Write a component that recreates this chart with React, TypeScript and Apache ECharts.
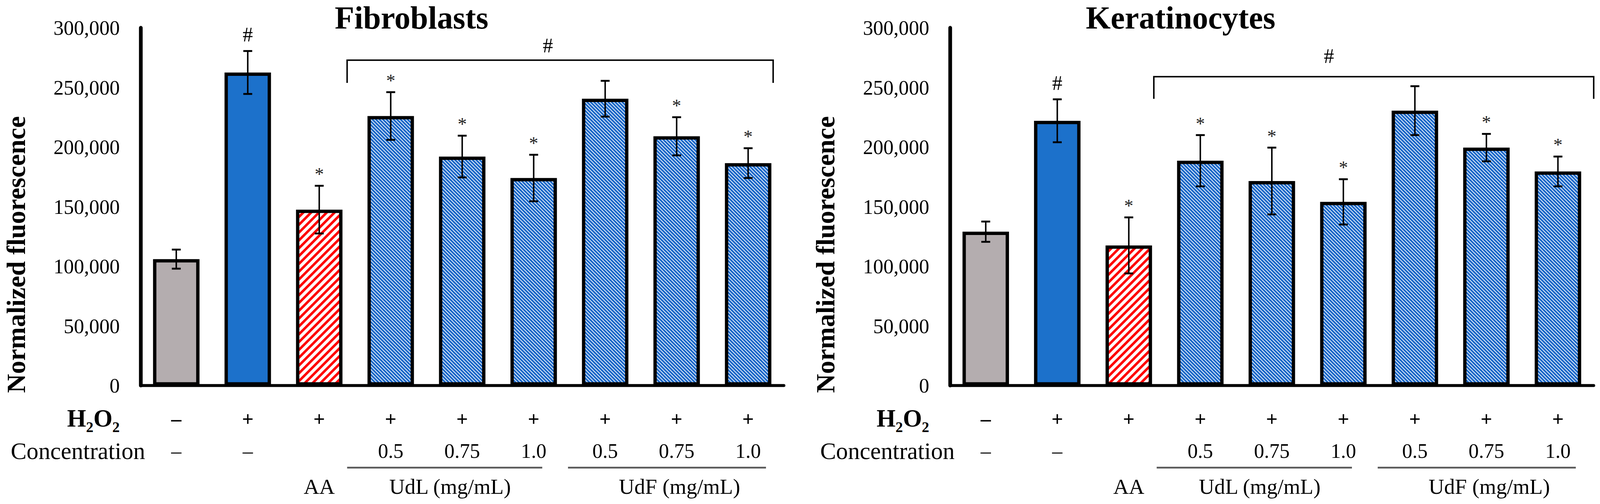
import React, { useEffect, useRef } from 'react';
import * as echarts from 'echarts';

// ---------- data ----------
const categories = ['Control', 'H2O2', 'AA', 'UdL 0.5', 'UdL 0.75', 'UdL 1.0', 'UdF 0.5', 'UdF 0.75', 'UdF 1.0'];
const fillKinds = ['gray', 'blue', 'red', 'hatch', 'hatch', 'hatch', 'hatch', 'hatch', 'hatch'];
const h2o2Row = ['–', '+', '+', '+', '+', '+', '+', '+', '+'];
const concentrationRow = ['–', '–', '', '0.5', '0.75', '1.0', '0.5', '0.75', '1.0'];
const agentRow = ['', '', 'AA', '', '', '', '', '', ''];
const groupNames = ['UdL (mg/mL)', 'UdF (mg/mL)'];
const groupFirst = [3, 6];
const groupLast = [5, 8];

const chartTitles = ['Fibroblasts', 'Keratinocytes'];
const yAxisTitle = 'Normalized fluorescence';

const fibroblastValues = [106000, 262500, 147500, 226000, 192000, 174000, 240500, 209000, 186500];
const fibroblastErrors = [8000, 18000, 20000, 20000, 17500, 19500, 15000, 16000, 12500];
const fibroblastMarks = ['', '#', '*', '*', '*', '*', '', '*', '*'];

const keratinocyteValues = [129000, 222000, 117500, 188500, 171500, 154000, 230500, 199500, 179500];
const keratinocyteErrors = [8500, 18000, 23500, 21500, 28000, 19000, 20500, 11500, 12500];
const keratinocyteMarks = ['', '#', '*', '*', '*', '*', '', '*', '*'];

const yMin = 0;
const yMax = 300000;
const yInterval = 50000;

// significance bracket over the treated groups
const bracketFrom = 2;
const bracketTo = 8;
const bracketLevels = [272800, 259000];
const bracketDrops = [253800, 240400];

// ---------- layout (reference pixels, 4315 x 1289) ----------
const FONT = 'Liberation Serif';
const REF_W = 4315;
const REF_H = 1289;
const R_OFF = 2183;
const gridsRef = [
  { left: 379, top: 71, width: 1735, height: 915 },
  { left: 379 + R_OFF, top: 71, width: 1736, height: 915 },
];
const titleX = [1110, 3184];
const bracketShift = [
  { l: 0.39, r: 0.35, hashDx: -33, hashLift: 38 },
  { l: 0.35, r: 0.5, hashDx: -121, hashLift: 53 },
];

function hatch(color: string, dir: 'back' | 'fwd', P: number, frac: number) {
  const c = document.createElement('canvas');
  const n = Math.max(4, Math.round(P));
  c.width = n;
  c.height = n;
  const ctx = c.getContext('2d')!;
  ctx.fillStyle = '#ffffff';
  ctx.fillRect(0, 0, n, n);
  ctx.strokeStyle = color;
  ctx.lineWidth = (frac * n) / Math.SQRT2;
  ctx.lineCap = 'square';
  for (let k = -2; k <= 2; k++) {
    ctx.beginPath();
    if (dir === 'back') {
      ctx.moveTo(k * n - n, -n);
      ctx.lineTo(k * n + 2 * n, 2 * n);
    } else {
      ctx.moveTo(k * n + n, -n);
      ctx.lineTo(k * n - 2 * n, 2 * n);
    }
    ctx.stroke();
  }
  return { image: c, repeat: 'repeat', imageWidth: n, imageHeight: n } as any;
}

export default function App() {
  const ref = useRef<HTMLDivElement>(null);

  useEffect(() => {
    const el = ref.current;
    if (!el) return;
    const vw = window.innerWidth || REF_W;
    const vh = window.innerHeight || REF_H;
    const sx = vw / REF_W;
    const sy = vh / REF_H;
    const s = Math.min(sx, sy);
    el.style.width = `${vw}px`;
    el.style.height = `${vh}px`;
    const X = (v: number) => v * sx;
    const Y = (v: number) => v * sy;
    const K = (v: number) => v * s;

    const txt = (text: string, x: number, y: number, size: number, opts: any = {}) => ({
      type: 'text',
      x,
      y,
      rotation: opts.rotation || 0,
      z: 100,
      style: {
        text,
        fontSize: K(size),
        fontFamily: FONT,
        fontWeight: opts.bold ? 'bold' : 'normal',
        fill: opts.fill || '#000',
        align: opts.align || 'center',
        textAlign: opts.align || 'center',
        verticalAlign: 'middle',
        textVerticalAlign: 'middle',
      },
    });

    const chart = echarts.init(el, undefined, { renderer: 'svg', width: vw, height: vh });

    const fills: Record<string, any> = {
      gray: '#b4adaf',
      blue: '#1c71cb',
      red: hatch('#ff0000', 'fwd', K(21), 0.45),
      hatch: hatch('#1a68c8', 'back', K(9), 0.72),
    };

    const valuesSets = [fibroblastValues, keratinocyteValues];
    const errorSets = [fibroblastErrors, keratinocyteErrors];
    const markSets = [fibroblastMarks, keratinocyteMarks];

    const grids = gridsRef.map((g) => ({
      left: X(g.left),
      top: Y(g.top),
      width: X(g.width),
      height: Y(g.height),
    }));

    const xAxes = grids.map((_, g) => ({
      type: 'category',
      gridIndex: g,
      data: categories,
      boundaryGap: true,
      axisLine: { show: true, lineStyle: { color: '#000', width: K(8) } },
      axisTick: { show: false },
      splitLine: { show: false },
      axisLabel: {
        interval: 0,
        margin: Y(44),
        formatter: (_v: string, i: number) =>
          `{a|${h2o2Row[i]}}\n{b|${concentrationRow[i] || ' '}}\n{c|${agentRow[i] || ' '}}`,
        rich: {
          a: { fontFamily: FONT, fontWeight: 'bold', fontSize: K(55), lineHeight: Y(82), color: '#000' },
          b: { fontFamily: FONT, fontSize: K(55), lineHeight: Y(82), color: '#000' },
          c: { fontFamily: FONT, fontSize: K(58), lineHeight: Y(100), color: '#000' },
        },
      },
    }));

    const yAxes = grids.map((_, g) => ({
      type: 'value',
      gridIndex: g,
      min: yMin,
      max: yMax,
      interval: yInterval,
      axisLine: { show: true, lineStyle: { color: '#000', width: K(10) } },
      axisTick: { show: false },
      splitLine: { show: false },
      axisLabel: {
        margin: X(56),
        fontSize: K(55),
        fontFamily: FONT,
        color: '#000',
        formatter: (v: number) => v.toLocaleString('en-US'),
      },
    }));

    const series: any[] = [];
    grids.forEach((_, g) => {
      const values = valuesSets[g];
      const errs = errorSets[g];
      const marks = markSets[g];
      series.push({
        type: 'bar',
        xAxisIndex: g,
        yAxisIndex: g,
        barWidth: '65%',
        data: values.map((v, i) => ({
          value: v,
          itemStyle: { color: fills[fillKinds[i]], borderColor: '#000', borderWidth: K(9) },
        })),
      });
      series.push({
        type: 'custom',
        xAxisIndex: g,
        yAxisIndex: g,
        clip: false,
        z: 10,
        data: values.map((v, i) => [i, v, errs[i]]),
        renderItem: (params: any, api: any) => {
          const i = api.value(0);
          const v = api.value(1);
          const e = api.value(2);
          const top = api.coord([i, v + e]);
          const bot = api.coord([i, v - e]);
          const x = top[0];
          const cap = X(12);
          const children: any[] = [
            { type: 'line', shape: { x1: x, y1: top[1], x2: x, y2: bot[1] }, style: { stroke: '#000', lineWidth: K(4) } },
            { type: 'line', shape: { x1: x - cap, y1: top[1], x2: x + cap, y2: top[1] }, style: { stroke: '#000', lineWidth: K(5) } },
            { type: 'line', shape: { x1: x - cap, y1: bot[1], x2: x + cap, y2: bot[1] }, style: { stroke: '#000', lineWidth: K(5) } },
          ];
          const m = marks[params.dataIndex];
          if (m === '#') children.push(txt('#', x, top[1] - Y(42), 55));
          else if (m === '*') children.push(txt('*', x, top[1] - Y(30), 50, { fill: '#222' }));
          return { type: 'group', children };
        },
      });
      series.push({
        type: 'custom',
        xAxisIndex: g,
        yAxisIndex: g,
        clip: false,
        z: 10,
        data: [[0, 0]],
        renderItem: (_p: any, api: any) => {
          const band = api.size([1, 0])[0];
          const axisY = api.coord([0, 0])[1];
          const bs = bracketShift[g];
          const xl = api.coord([bracketFrom, 0])[0] + bs.l * band;
          const xr = api.coord([bracketTo, 0])[0] + bs.r * band;
          const yl = api.coord([0, bracketLevels[g]])[1];
          const yd = api.coord([0, bracketDrops[g]])[1];
          const children: any[] = [
            {
              type: 'polyline',
              shape: { points: [[xl, yd], [xl, yl], [xr, yl], [xr, yd]] },
              style: { stroke: '#000', lineWidth: K(4), fill: 'none' },
            },
            txt('#', (xl + xr) / 2 + X(bs.hashDx), yl - Y(bs.hashLift), 55),
          ];
          const lineL = [-0.61, -0.52];
          const lineR = [0.12, 0.25];
          const labelShift = [-0.17, 0.04];
          groupNames.forEach((name, k) => {
            const x1 = api.coord([groupFirst[k], 0])[0] + lineL[k] * band;
            const x2 = api.coord([groupLast[k], 0])[0] + lineR[k] * band;
            const mid = (groupFirst[k] + groupLast[k]) / 2;
            const xc = api.coord([mid, 0])[0] + labelShift[k] * band;
            children.push({
              type: 'line',
              shape: { x1, y1: axisY + Y(210), x2, y2: axisY + Y(210) },
              style: { stroke: '#5a5a5a', lineWidth: K(5) },
            });
            children.push(txt(name, xc, axisY + Y(258), 58));
          });
          return { type: 'group', children };
        },
      });
    });

    const graphic: any[] = [];
    [0, 1].forEach((g) => {
      const off = g * R_OFF;
      graphic.push(txt(chartTitles[g], X(titleX[g]), Y(45), 86, { bold: true }));
      graphic.push(txt(yAxisTitle, X(44 + off), Y(651), 71, { bold: true, rotation: Math.PI / 2 }));
      graphic.push(txt('H', X(181 + off), Y(1070), 66, { bold: true, align: 'left' }));
      graphic.push(txt('2', X(232 + off), Y(1092), 40, { bold: true, align: 'left' }));
      graphic.push(txt('O', X(252 + off), Y(1070), 66, { bold: true, align: 'left' }));
      graphic.push(txt('2', X(303 + off), Y(1092), 40, { bold: true, align: 'left' }));
      graphic.push(txt('Concentration', X(29 + off), Y(1153), 64, { align: 'left' }));
    });

    chart.setOption({
      animation: false,
      backgroundColor: '#fff',
      textStyle: { fontFamily: FONT },
      grid: grids,
      xAxis: xAxes,
      yAxis: yAxes,
      series,
      graphic,
    });

    return () => chart.dispose();
  }, []);

  return (
    <div
      ref={ref}
      style={{ position: 'absolute', left: 0, top: 0, width: REF_W, height: REF_H, background: '#fff', overflow: 'hidden' }}
    />
  );
}
